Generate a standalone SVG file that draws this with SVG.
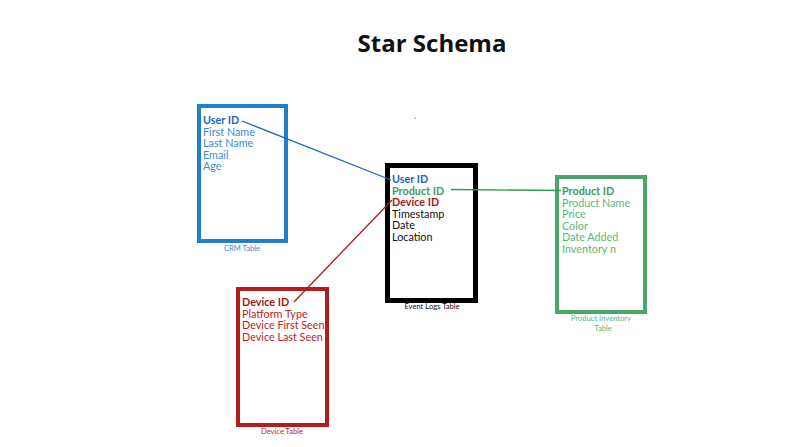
<svg xmlns="http://www.w3.org/2000/svg" width="800" height="447" viewBox="0 0 800 447">
<style>
.t{font-family:Lato,"Liberation Sans",sans-serif;font-size:10.8px}
.b{font-weight:bold}
.cap{font-family:Lato,"Liberation Sans",sans-serif;font-size:7.6px;text-anchor:middle}
.blue{fill:#3a8ad6}.blueb{fill:#1766c4}
.green{fill:#5bb57c}.greenb{fill:#3c9a5e}
.red{fill:#c02424}.redb{fill:#a81616}
.blk{fill:#111}
.box{fill:#fff}
</style>
<rect width="800" height="447" fill="#fff"/>
<text x="432" y="52" text-anchor="middle" font-family="'Open Sans','Noto Sans',sans-serif" font-weight="bold" font-size="24" fill="#111">Star Schema</text>
<rect x="414.5" y="117.5" width="1.2" height="1.2" fill="#2a6"/>
<g id="crm">
<rect class="box" x="199" y="106" width="87" height="135" stroke="#1e7fd0" stroke-width="4"/>
<text class="t b blueb" x="203" y="124">User ID</text>
<text class="t blue" x="203" y="135.5">First Name</text>
<text class="t blue" x="203" y="147">Last Name</text>
<text class="t blue" x="203" y="158.5">Email</text>
<text class="t blue" x="203" y="170">Age</text>
<text class="cap blue" x="242" y="251">CRM Table</text>
</g>
<g id="events">
<rect class="box" x="387.5" y="165.5" width="88" height="135" stroke="#000" stroke-width="5"/>
<text class="t b blueb" x="392" y="183">User ID</text>
<text class="t b greenb" x="392" y="194.5">Product ID</text>
<text class="t b redb" x="392" y="206">Device ID</text>
<text class="t blk" x="392" y="217.5">Timestamp</text>
<text class="t blk" x="392" y="229">Date</text>
<text class="t blk" x="392" y="240.5">Location</text>
<text class="cap blk" x="432" y="309">Event Logs Table</text>
</g>
<g id="product">
<rect class="box" x="557" y="177" width="88" height="135" stroke="#4aa56a" stroke-width="4"/>
<text class="t b greenb" x="562" y="195">Product ID</text>
<text class="t green" x="562" y="206.5">Product Name</text>
<text class="t green" x="562" y="218">Price</text>
<text class="t green" x="562" y="229.5">Color</text>
<text class="t green" x="562" y="241">Date Added</text>
<text class="t green" x="562" y="252.5">Inventory n</text>
<text class="cap green" x="601" y="320.5">Product Inventory</text>
<text class="cap green" x="603" y="330.5">Table</text>
</g>
<g id="device">
<rect class="box" x="238" y="289" width="89" height="136" stroke="#b71c1c" stroke-width="4"/>
<text class="t b redb" x="242" y="306">Device ID</text>
<text class="t red" x="242" y="317.5">Platform Type</text>
<text class="t red" x="242" y="329">Device First Seen</text>
<text class="t red" x="242" y="340.5">Device Last Seen</text>
<text class="cap red" x="282" y="434">Device Table</text>
</g>
<g id="connectors" fill="none" stroke-width="1.3">
<line x1="242" y1="121" x2="391" y2="180" stroke="#1766c4"/>
<line x1="451" y1="189.5" x2="561" y2="190.5" stroke="#2e9a55"/>
<line x1="294" y1="302" x2="392" y2="200" stroke="#b01818"/>
</g>
</svg>
